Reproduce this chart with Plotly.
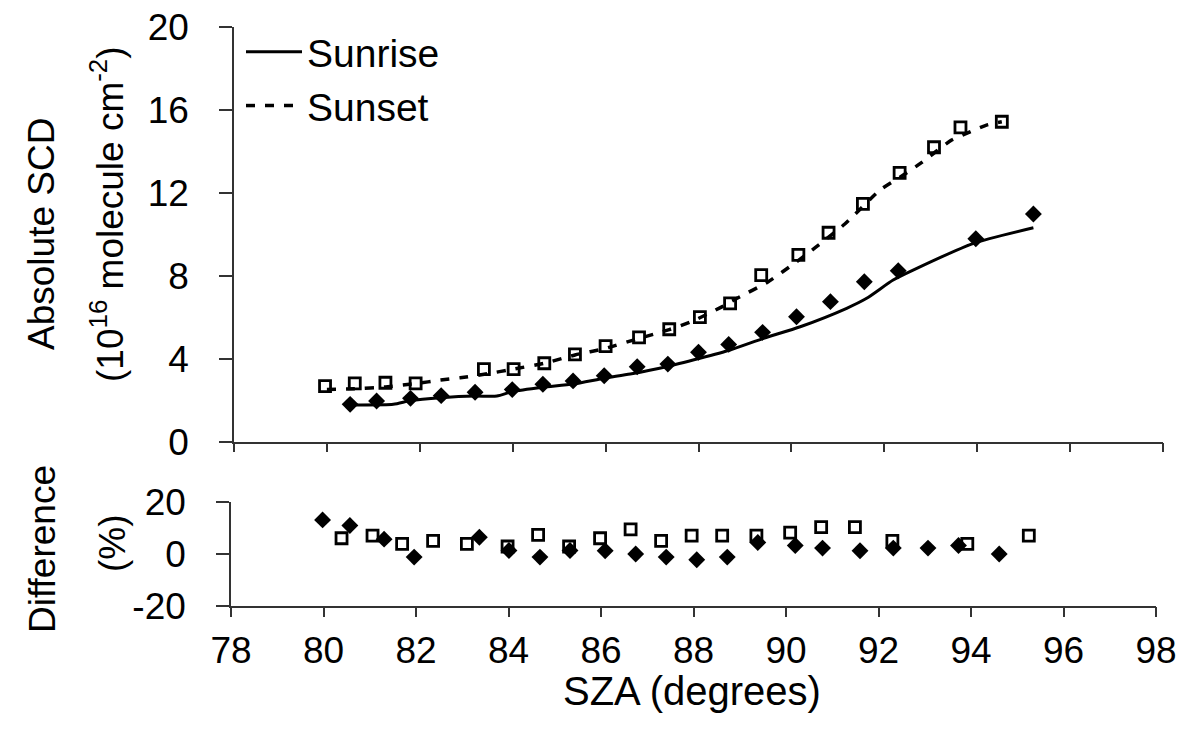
import plotly.graph_objects as go

# ---------------- data ----------------
# Top panel: absolute SCD (10^16 molecule cm^-2)
sunset_pts_x = [79.96, 80.60, 81.26, 81.91, 83.38, 84.02, 84.68, 85.34, 86.00, 86.72, 87.37,
                88.03, 88.68, 89.35, 90.15, 90.80, 91.54, 92.33, 93.07, 93.64, 94.53]
sunset_pts_y = [2.68, 2.81, 2.84, 2.81, 3.50, 3.50, 3.78, 4.21, 4.61, 5.03, 5.42,
                6.00, 6.67, 8.03, 9.00, 10.07, 11.46, 12.96, 14.19, 15.15, 15.42]

sunrise_pts_x = [80.50, 81.07, 81.80, 82.46, 83.19, 83.99, 84.65, 85.30, 85.97, 86.68,
                 87.34, 88.00, 88.65, 89.38, 90.11, 90.84, 91.57, 92.30, 93.97, 95.21]
sunrise_pts_y = [1.80, 1.96, 2.09, 2.22, 2.38, 2.51, 2.77, 2.93, 3.18, 3.61,
                 3.74, 4.31, 4.69, 5.27, 6.02, 6.75, 7.71, 8.24, 9.78, 10.97]

sunrise_line_x = [80.50, 81.43, 81.80, 82.46, 83.19, 83.66, 83.99, 84.65, 85.30, 85.97, 86.53,
                  87.31, 88.03, 88.68, 89.40, 90.19, 91.19, 91.62, 92.19, 92.62, 93.92, 95.21]
sunrise_line_y = [1.77, 1.80, 1.98, 2.12, 2.20, 2.20, 2.41, 2.62, 2.78, 3.06, 3.26,
                  3.61, 4.02, 4.42, 4.98, 5.54, 6.43, 6.91, 7.79, 8.27, 9.56, 10.31]

sunset_line_x = [80.00, 80.60, 81.26, 81.91, 82.45, 82.87, 83.47, 84.02, 84.68, 85.34, 86.00,
                 86.72, 87.37, 87.89, 88.46, 88.82, 89.50, 90.11, 90.54, 91.15, 91.91, 92.41,
                 92.80, 93.45, 93.77, 94.20, 94.53]
sunset_line_y = [2.52, 2.55, 2.64, 2.80, 2.97, 3.08, 3.28, 3.50, 3.78, 4.18, 4.50,
                 4.98, 5.40, 5.83, 6.45, 6.90, 7.71, 8.67, 9.40, 10.49, 12.13, 12.85,
                 13.45, 14.54, 14.86, 15.26, 15.42]

# Bottom panel: difference (%)
diff_dia_x = [79.98, 80.57, 81.31, 81.96, 83.37, 84.01, 84.68, 85.33, 86.09, 86.75, 87.41,
              88.07, 88.73, 89.39, 90.20, 90.79, 91.60, 92.32, 93.07, 93.73, 94.61]
diff_dia_y = [13.2, 11.0, 5.75, -1.2, 6.5, 1.35, -1.2, 1.35, 1.24, 0.0, -1.2,
              -2.24, -1.2, 4.44, 3.28, 2.28, 1.24, 2.28, 2.28, 3.28, 0.0]

diff_sq_x = [80.39, 81.06, 81.70, 82.37, 83.10, 83.98, 84.64, 85.31, 85.98, 86.64,
             87.30, 87.96, 88.62, 89.36, 90.09, 90.76, 91.49, 92.30, 93.92, 95.25]
diff_sq_y = [6.1, 7.1, 3.9, 5.1, 3.9, 2.9, 7.4, 2.9, 6.1, 9.5,
             5.1, 7.1, 7.1, 7.1, 8.3, 10.4, 10.4, 5.1, 3.9, 7.1]

x_ticks = [78, 80, 82, 84, 86, 88, 90, 92, 94, 96, 98]
top_y_ticks = [0, 4, 8, 12, 16, 20]
bot_y_ticks = [-20, 0, 20]
bot_y_ticktext = ["-20", "0", "20"]

# ---------------- figure ----------------
# page has an 8px body margin, so the figure is made 16px smaller and positions offset by 8px
OFF = 8
W, H = 1185 - 2 * OFF, 735 - 2 * OFF
FONT = "Liberation Sans, Arial, sans-serif"

def px_x(p):
    return (p - OFF) / W

def px_y(p):
    return 1 - (p - OFF) / H

fig = go.Figure()

sq_marker = dict(symbol="square-open", size=11, color="black", line=dict(width=2.8, color="black"))
dia_marker = dict(symbol="diamond", size=13, color="black", line=dict(width=0))

fig.add_trace(go.Scatter(x=sunrise_line_x, y=sunrise_line_y, mode="lines", name="Sunrise",
                         line=dict(color="black", width=3, shape="spline", smoothing=0.6),
                         xaxis="x", yaxis="y"))
fig.add_trace(go.Scatter(x=sunset_line_x, y=sunset_line_y, mode="lines", name="Sunset",
                         line=dict(color="black", width=3.5, dash="9px,10px", shape="spline", smoothing=0.6),
                         xaxis="x", yaxis="y"))
fig.add_trace(go.Scatter(x=sunset_pts_x, y=sunset_pts_y, mode="markers", marker=sq_marker,
                         showlegend=False, xaxis="x", yaxis="y"))
fig.add_trace(go.Scatter(x=sunrise_pts_x, y=sunrise_pts_y, mode="markers", marker=dia_marker,
                         showlegend=False, xaxis="x", yaxis="y"))

fig.add_trace(go.Scatter(x=diff_sq_x, y=diff_sq_y, mode="markers", marker=sq_marker,
                         showlegend=False, xaxis="x2", yaxis="y2"))
fig.add_trace(go.Scatter(x=diff_dia_x, y=diff_dia_y, mode="markers", marker=dia_marker,
                         showlegend=False, xaxis="x2", yaxis="y2"))

tickfont = dict(family=FONT, size=37, color="black")
axis_common = dict(showgrid=False, zeroline=False, showline=True, linecolor="#333333",
                   linewidth=1.5, ticks="outside", tickcolor="#333333", tickwidth=1.5,
                   automargin=False, ticklabeloverflow="allow")

fig.update_layout(
    width=W, height=H,
    margin=dict(l=0, r=0, t=0, b=0),
    paper_bgcolor="white", plot_bgcolor="white",
    font=dict(family=FONT, color="black"),
    xaxis=dict(domain=[px_x(234), px_x(1163)], range=[78, 98], tickvals=x_ticks,
               showticklabels=False, ticklen=9, anchor="y", **axis_common),
    yaxis=dict(domain=[px_y(441.7), px_y(26.7)], range=[0, 20], tickvals=top_y_ticks,
               tickfont=tickfont, ticklen=13, ticklabelstandoff=23, anchor="x", **axis_common),
    xaxis2=dict(domain=[px_x(231), px_x(1156)], range=[78, 98], tickvals=x_ticks,
                tickfont=tickfont, ticklen=10, ticklabelstandoff=1, anchor="y2", **axis_common),
    yaxis2=dict(domain=[px_y(605.7), px_y(502.3)], range=[-20, 20], tickvals=bot_y_ticks,
                ticktext=bot_y_ticktext,
                tickfont=tickfont, ticklen=13, ticklabelstandoff=23, anchor="x2", **axis_common),
    showlegend=True,
    legend=dict(x=px_x(241), y=px_y(20), xanchor="left", yanchor="top",
                font=dict(family=FONT, size=39, color="black"), itemwidth=56,
                bgcolor="rgba(0,0,0,0)", borderwidth=0, tracegroupgap=0),
)

ann = [
    dict(text="Absolute SCD", x=px_x(42), y=px_y(234), textangle=-90),
    dict(text="(10<sup>16</sup> molecule cm<sup>-2</sup>)", x=px_x(108), y=px_y(214), textangle=-90),
    dict(text="Difference", x=px_x(42), y=px_y(549), textangle=-90),
    dict(text="(%)", x=px_x(112), y=px_y(543), textangle=-90),
    dict(text="SZA (degrees)", x=px_x(692), y=px_y(691), textangle=0, size=40),
]
for a in ann:
    size = a.pop("size", 37)
    fig.add_annotation(xref="paper", yref="paper", showarrow=False,
                       font=dict(family=FONT, size=size, color="black"),
                       xanchor="center", yanchor="middle", **a)

fig.write_html("out.html")
